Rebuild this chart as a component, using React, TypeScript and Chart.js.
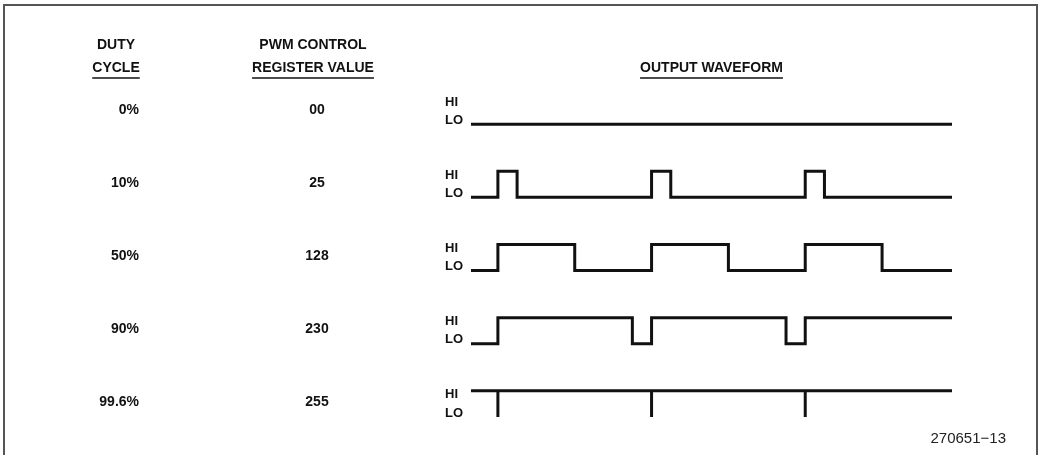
import { useEffect, useRef } from 'react';
import { Chart, registerables } from 'chart.js';

Chart.register(...registerables);

// Row labels
const dutyCycles = ['0%', '10%', '50%', '90%', '99.6%'];
const registerValues = ['00', '25', '128', '230', '255'];
const levelLabels = ['HI', 'LO'];
const headerDuty = ['DUTY', 'CYCLE'];
const headerRegister = ['PWM CONTROL', 'REGISTER VALUE'];
const headerWave = 'OUTPUT WAVEFORM';
const figureId = '270651\u221213';

// Waveform breakpoints: [time, level]; level 1 = HI, 0 = LO; the new level starts at that time
const wave0: number[][] = [[0, 0], [31.3, 0]];
const wave10: number[][] = [[0, 0], [1.75, 1], [3.0, 0], [11.75, 1], [13.0, 0], [21.75, 1], [23.0, 0], [31.3, 0]];
const wave50: number[][] = [[0, 0], [1.75, 1], [6.75, 0], [11.75, 1], [16.75, 0], [21.75, 1], [26.75, 0], [31.3, 0]];
const wave90: number[][] = [[0, 0], [1.75, 1], [10.5, 0], [11.75, 1], [20.5, 0], [21.75, 1], [31.3, 1]];
const wave996: number[][] = [[0, 1], [1.75, 0], [1.75, 1], [11.75, 0], [11.75, 1], [21.75, 0], [21.75, 1], [31.3, 1]];

const waves = [wave0, wave10, wave50, wave90, wave996];
const ROW_STEP = 2.8; // vertical spacing between rows, in level units

const BOLD = (s: number) => `bold ${s}px "Liberation Sans", Arial, sans-serif`;

const textPlugin = {
  id: 'pwmText',
  beforeDraw(chart: any) {
    const ctx = chart.ctx;
    ctx.save();
    ctx.fillStyle = '#ffffff';
    ctx.fillRect(0, 0, chart.width, chart.height);
    ctx.strokeStyle = '#555555';
    ctx.lineWidth = 2;
    ctx.strokeRect(4, 5, 1033, 520);
    ctx.restore();
  },
  afterDraw(chart: any) {
    const ctx = chart.ctx;
    const y = chart.scales.y;
    const area = chart.chartArea;
    ctx.save();
    ctx.fillStyle = '#111111';
    ctx.strokeStyle = '#111111';
    ctx.textBaseline = 'middle';

    const underline = (text: string, cx: number, ly: number) => {
      const w = ctx.measureText(text).width;
      ctx.lineWidth = 1.5;
      ctx.beginPath();
      ctx.moveTo(cx - w / 2, ly);
      ctx.lineTo(cx + w / 2, ly);
      ctx.stroke();
    };

    // Headers
    ctx.font = BOLD(14);
    ctx.textAlign = 'center';
    const dutyX = 116;
    const regX = 313;
    const waveX = (area.left + area.right) / 2;
    ctx.fillText(headerDuty[0], dutyX, 45);
    ctx.fillText(headerDuty[1], dutyX, 68);
    underline(headerDuty[1], dutyX, 78);
    ctx.fillText(headerRegister[0], regX, 45);
    ctx.fillText(headerRegister[1], regX, 68);
    underline(headerRegister[1], regX, 78);
    ctx.fillText(headerWave, waveX, 68);
    underline(headerWave, waveX, 78);

    // Rows
    dutyCycles.forEach((d, r) => {
      const base = -r * ROW_STEP;
      const midY = y.getPixelForValue(base + 0.55);
      ctx.font = BOLD(14);
      ctx.textAlign = 'right';
      ctx.fillText(d, 139, midY);
      ctx.textAlign = 'center';
      ctx.fillText(registerValues[r], 317, midY);
      ctx.font = BOLD(13);
      ctx.textAlign = 'left';
      ctx.fillText(levelLabels[0], area.left - 26, y.getPixelForValue(base + 1) + 4);
      ctx.fillText(levelLabels[1], area.left - 26, y.getPixelForValue(base) - 4);
    });

    ctx.font = '15px "Liberation Sans", Arial, sans-serif';
    ctx.textAlign = 'right';
    ctx.fillStyle = '#222222';
    ctx.fillText(figureId, 1006, 439);
    ctx.restore();
  },
};

export default function App() {
  const canvasRef = useRef<HTMLCanvasElement | null>(null);

  useEffect(() => {
    if (!canvasRef.current) return;
    const datasets = waves.map((w, r) => ({
      label: dutyCycles[r],
      data: w.map(([t, lvl]) => ({ x: t, y: lvl - r * ROW_STEP })),
      borderColor: '#111111',
      borderWidth: 3,
      pointRadius: 0,
      stepped: true as const,
      fill: false,
      clip: false as const,
      borderCapStyle: 'butt' as const,
      borderJoinStyle: 'miter' as const,
    }));
    const chart = new Chart(canvasRef.current, {
      type: 'line',
      data: { datasets },
      options: {
        animation: false,
        responsive: false,
        events: [],
        layout: { padding: { left: 471, right: 87, top: 98, bottom: 38 } },
        plugins: { legend: { display: false }, tooltip: { enabled: false }, title: { display: false } },
        scales: {
          x: { type: 'linear', min: 0, max: 31.3, display: false },
          y: { type: 'linear', min: -4 * ROW_STEP, max: 1, display: false },
        },
      },
      plugins: [textPlugin],
    });
    return () => chart.destroy();
  }, []);

  return (
    <div style={{ position: 'fixed', left: 0, top: 0, width: 1039, height: 455, background: '#fff' }}>
      <canvas ref={canvasRef} width={1039} height={455} style={{ display: 'block' }} />
    </div>
  );
}
